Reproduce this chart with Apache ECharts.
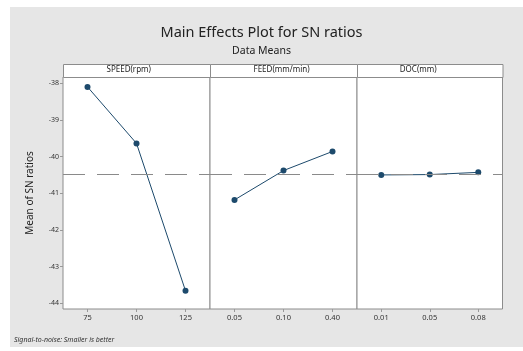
<!DOCTYPE html>
<html><head><meta charset="utf-8">
<script src="https://cdn.jsdelivr.net/npm/echarts@6/dist/echarts.min.js"></script>
<style>
html,body{margin:0;padding:0;background:#fff;}
#bg{position:absolute;left:10px;top:7px;width:513px;height:340px;background:#e6e6e6;}
#c{position:absolute;left:0;top:0;width:523px;height:351px;}
</style></head>
<body><div id="bg"></div><div id="c"></div>
<script>
const panelNames = ['SPEED(rpm)', 'FEED(mm/min)', 'DOC(mm)'];
const speedLevels = ['75', '100', '125'];
const feedLevels = ['0.05', '0.10', '0.40'];
const docLevels = ['0.01', '0.05', '0.08'];
const speedSN = [-38.10, -39.64, -43.66];
const feedSN = [-41.18, -40.38, -39.86];
const docSN = [-40.50, -40.49, -40.43];
const yTicks = [-44, -43, -42, -41, -40, -39, -38];

const levels = [speedLevels, feedLevels, docLevels];
const values = [speedSN, feedSN, docSN];
const all = speedSN.concat(feedSN, docSN);
const grandMean = all.reduce((a, b) => a + b, 0) / all.length;

const font = 'Noto Sans';
const gridTop = 77, gridH = 232;
const lefts = [63, 210, 357];
const widths = [147, 147, 145.5];
const yMin = -44.155, yMax = -37.83;

const chart = echarts.init(document.getElementById('c'));
const grids = [], xAxes = [], yAxes = [], series = [], graphics = [];
for (let i = 0; i < 3; i++) {
  grids.push({left: lefts[i], top: gridTop, width: widths[i], height: gridH,
    show: true, backgroundColor: '#fff', borderColor: '#8c8c8c', borderWidth: 1});
  xAxes.push({type: 'category', gridIndex: i, data: levels[i], boundaryGap: true,
    axisLine: {show: false},
    axisTick: {show: true, alignWithLabel: true, length: 3, lineStyle: {color: '#999'}},
    axisLabel: {fontFamily: font, fontSize: 7.5, color: '#333', margin: 5}});
  yAxes.push({type: 'value', gridIndex: i, min: yMin, max: yMax,
    splitLine: {show: false}, axisLine: {show: false},
    axisTick: {show: i === 0, length: 3, customValues: yTicks, lineStyle: {color: '#999'}},
    axisLabel: {show: i === 0, customValues: yTicks, fontFamily: font, fontSize: 7, color: '#333', margin: 4},
    name: i === 0 ? 'Mean of SN ratios' : '', nameLocation: 'middle', nameGap: 28,
    nameTextStyle: {fontFamily: font, fontSize: 10, color: '#222'}});
  series.push({type: 'line', xAxisIndex: i, yAxisIndex: i, data: values[i],
    symbol: 'circle', symbolSize: 6,
    itemStyle: {color: '#1d4a6c'}, lineStyle: {color: '#1d4a6c', width: 1},
    markLine: {silent: true, symbol: 'none', label: {show: false},
      lineStyle: {type: [22, 12], color: '#8a8a8a', width: 1},
      data: [{yAxis: grandMean}]}});
  graphics.push({type: 'rect', left: lefts[i], top: 64,
    shape: {width: widths[i], height: 13},
    style: {fill: '#fff', stroke: '#8c8c8c', lineWidth: 1}});
  graphics.push({type: 'text', left: lefts[i] + widths[i] / 2 - 30, top: 66,
    style: {text: panelNames[i], width: 60, align: 'center', fontFamily: font, fontSize: 8, fill: '#222'}});
}
graphics.push({type: 'text', left: 14, top: 336,
  style: {text: 'Signal-to-noise: Smaller is better', fontFamily: font, fontSize: 7, fontStyle: 'italic', fill: '#333'}});

chart.setOption({
  animation: false,
  title: [
    {text: 'Main Effects Plot for SN ratios', left: 'center', top: 20,
      textStyle: {fontFamily: font, fontSize: 14.5, fontWeight: 'normal', color: '#222'}},
    {text: 'Data Means', left: 'center', top: 41,
      textStyle: {fontFamily: font, fontSize: 10.5, fontWeight: 'normal', color: '#222'}}
  ],
  grid: grids, xAxis: xAxes, yAxis: yAxes, series: series, graphic: graphics
});
</script></body></html>
